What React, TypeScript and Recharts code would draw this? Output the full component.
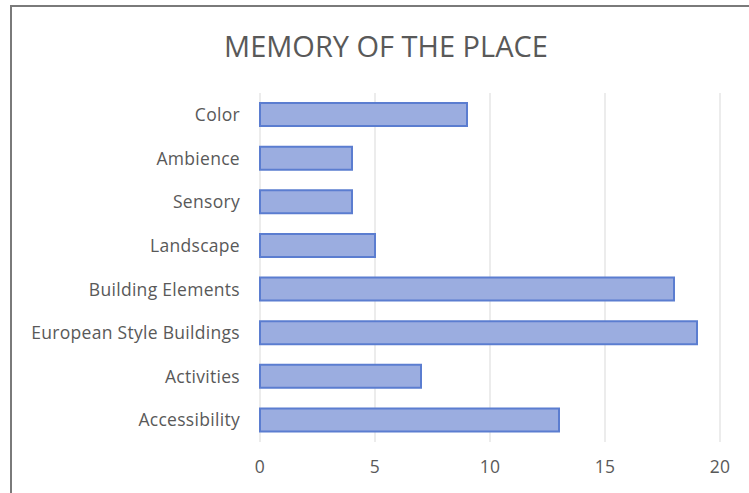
import React from "react";
import { BarChart, Bar, XAxis, YAxis, CartesianGrid } from "recharts";

const categories = [
  "Color",
  "Ambience",
  "Sensory",
  "Landscape",
  "Building Elements",
  "European Style Buildings",
  "Activities",
  "Accessibility",
];
const values = [9, 4, 4, 5, 18, 19, 7, 13];
const xTicks = [0, 5, 10, 15, 20];

const data = categories.map((name, i) => ({ name, value: values[i] }));

const tickStyle = {
  fill: "#595959",
  fontSize: 17.5,
  fontFamily: "'Open Sans', sans-serif",
  letterSpacing: 0.3,
};

export default function App() {
  return (
    <div style={{ position: "absolute", left: 0, top: 0, width: 749, height: 493, background: "#fff", overflow: "hidden" }}>
      <div
        style={{
          position: "absolute",
          left: 10,
          top: 5,
          width: 760,
          height: 520,
          border: "2px solid #7a7a7a",
          boxSizing: "border-box",
        }}
      />
      <div
        style={{
          position: "absolute",
          left: 0,
          top: 25,
          width: 772,
          textAlign: "center",
          fontFamily: "'Open Sans', sans-serif",
          fontSize: 29,
          color: "#595959",
          lineHeight: "42px",
        }}
      >
        MEMORY OF THE PLACE
      </div>
      <div style={{ position: "absolute", left: 0, top: 0 }}>
        <BarChart
          width={749}
          height={493}
          data={data}
          layout="vertical"
          margin={{ top: 93, right: 29, bottom: 11, left: 0 }}
          barSize={23}
        >
          <CartesianGrid horizontal={false} vertical={true} stroke="#d9d9d9" />
          <XAxis
            type="number"
            domain={[0, 20]}
            ticks={xTicks}
            axisLine={false}
            tickLine={false}
            tickSize={0}
            tickMargin={19}
            height={40}
            tick={tickStyle}
          />
          <YAxis
            type="category"
            dataKey="name"
            width={260}
            axisLine={false}
            tickLine={false}
            tickSize={0}
            tickMargin={20}
            interval={0}
            tick={tickStyle}
          />
          <Bar dataKey="value" fill="#9badE0" stroke="#5b7dd0" strokeWidth={2} isAnimationActive={false} />
        </BarChart>
      </div>
    </div>
  );
}
